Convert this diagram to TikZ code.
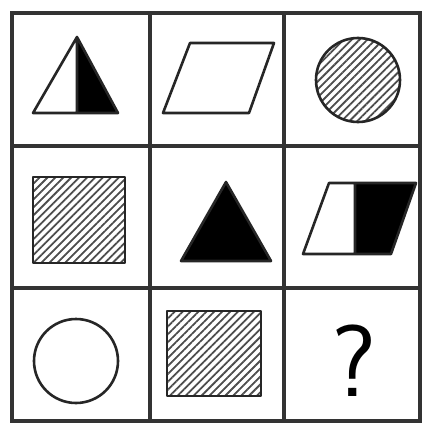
\documentclass[tikz,border=0pt]{standalone}
\usetikzlibrary{patterns.meta}

\begin{document}
\begin{tikzpicture}[x=0.5pt,y=-0.5pt,
 grid/.style={draw=black!80,line width=1.7pt},
 fig/.style={draw=black!85,line width=1.3pt,line join=round},
 hatch/.style={fig,pattern={Lines[angle=45,distance=2.8pt,line width=0.9pt]},pattern color=black!70}]
\useasboundingbox (0,0) rectangle (422,423);
% grid of nine cells
\draw[grid] (12,13) rectangle (420,421);
\foreach \x in {150,284} \draw[grid] (\x,13) -- (\x,421);
\foreach \y in {146,288} \draw[grid] (12,\y) -- (420,\y);
% row 1
\fill[black] (77,37) -- (118,113) -- (77,113) -- cycle;
\draw[fig] (77,37) -- (118,113) -- (33,113) -- cycle (77,37) -- (77,113);
\draw[fig] (163,113) -- (249,113) -- (274,43) -- (190,43) -- cycle;
\draw[hatch] (358,80) circle[radius=42];
% row 2
\draw[hatch] (33,177) rectangle (125,263);
\draw[fig,fill=black] (226,182) -- (271,261) -- (181,261) -- cycle;
\fill[black] (355,183) -- (416,183) -- (391,254) -- (355,254) -- cycle;
\draw[fig] (303,254) -- (391,254) -- (416,183) -- (329,183) -- cycle (355,183) -- (355,254);
% row 3
\draw[fig] (76,361) circle[radius=42];
\draw[hatch] (167,311) rectangle (261,396);
\node[font=\fontsize{51}{51}\selectfont\sffamily] (q) at (354,361) {?};
\end{tikzpicture}
\end{document}
